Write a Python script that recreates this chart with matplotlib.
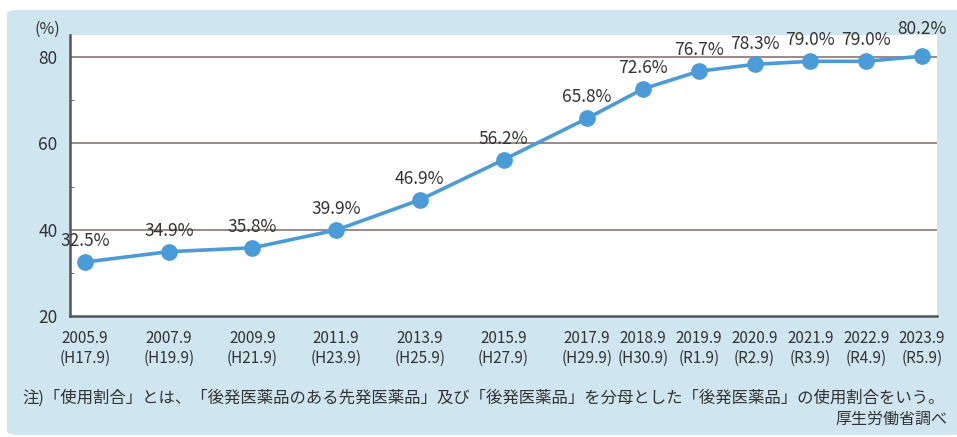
import matplotlib.pyplot as plt
from matplotlib.patches import FancyBboxPatch
from matplotlib.ticker import MultipleLocator

plt.rcParams['font.family'] = ['Noto Sans CJK JP', 'DejaVu Sans']

years = [2005, 2007, 2009, 2011, 2013, 2015, 2017, 2018, 2019, 2020, 2021, 2022, 2023]
era = ["H17.9", "H19.9", "H21.9", "H23.9", "H25.9", "H27.9", "H29.9", "H30.9",
       "R1.9", "R2.9", "R3.9", "R4.9", "R5.9"]
rates = [32.5, 34.9, 35.8, 39.9, 46.9, 56.2, 65.8, 72.6, 76.7, 78.3, 79.0, 79.0, 80.2]
note = "注)「使用割合」とは、「後発医薬品のある先発医薬品」及び「後発医薬品」を分母とした「後発医薬品」の使用割合をいう。"
source = "厚生労働省調べ"

# two-year steps are drawn 1.5 wide, one-year steps 1 wide
xpos = [0.0]
for a, b in zip(years[:-1], years[1:]):
    xpos.append(xpos[-1] + (1.5 if b - a == 2 else 1.0))
xlabels = ["{0}.9\n({1})".format(y, e) for y, e in zip(years, era)]

blue = "#4a9bd8"
panel = "#cfe5ef"
txt = "#333333"

fig = plt.figure(figsize=(9.57, 4.37), dpi=100)
fig.patch.set_facecolor("white")
bg = FancyBboxPatch((7 / 957, 0.005), 1.0, 1 - 10 / 437 - 0.005,
                    boxstyle="round,pad=0,rounding_size=0.01",
                    transform=fig.transFigure, facecolor=panel, edgecolor="none", zorder=-5)
fig.patches.append(bg)

ax = fig.add_axes([70 / 957, 1 - 316 / 437, (937 - 70) / 957, (316 - 35) / 437])
ax.set_facecolor("white")
ax.set_xlim(-0.27, xpos[-1] + 0.27)
ax.set_ylim(20, 85.1)

for v in [40, 60, 80]:
    ax.axhline(v, color="#9d8888", lw=1.4, zorder=1)

ax.plot(xpos, rates, color=blue, lw=2.6, marker="o", markersize=11, zorder=3)

for x, v in zip(xpos, rates):
    dy = 15
    if v == 80.2:
        dy = 19.5
    ax.annotate("{0:.1f}%".format(v), (x, v), xytext=(0, dy), textcoords="offset points",
                ha="center", va="center", fontsize=12.5, color=txt, zorder=4)

ax.set_xticks(xpos)
ax.set_xticklabels(xlabels, fontsize=11, color=txt, linespacing=1.2)
ax.tick_params(axis="x", length=0, pad=10)
ax.set_yticks([20, 40, 60, 80])
ax.set_yticklabels(["20", "40", "60", "80"], fontsize=12.5, color=txt)
ax.tick_params(axis="y", length=0, pad=9)
ax.yaxis.set_minor_locator(MultipleLocator(10))
ax.tick_params(axis="y", which="minor", direction="in", length=3, color="#555555")

for s in ["top", "right"]:
    ax.spines[s].set_visible(False)
for s in ["left", "bottom"]:
    ax.spines[s].set_color("#555555")
    ax.spines[s].set_linewidth(1.8)

fig.text(47 / 957, 1 - 29 / 437, "(%)", ha="center", va="center", fontsize=11.5, color=txt)
fig.text(22 / 957, 1 - 398 / 437, note, ha="left", va="center", fontsize=11.8, color=txt)
fig.text(947 / 957, 1 - 419 / 437, source, ha="right", va="center", fontsize=11.5, color=txt)

fig.savefig("out.png", dpi=100)
